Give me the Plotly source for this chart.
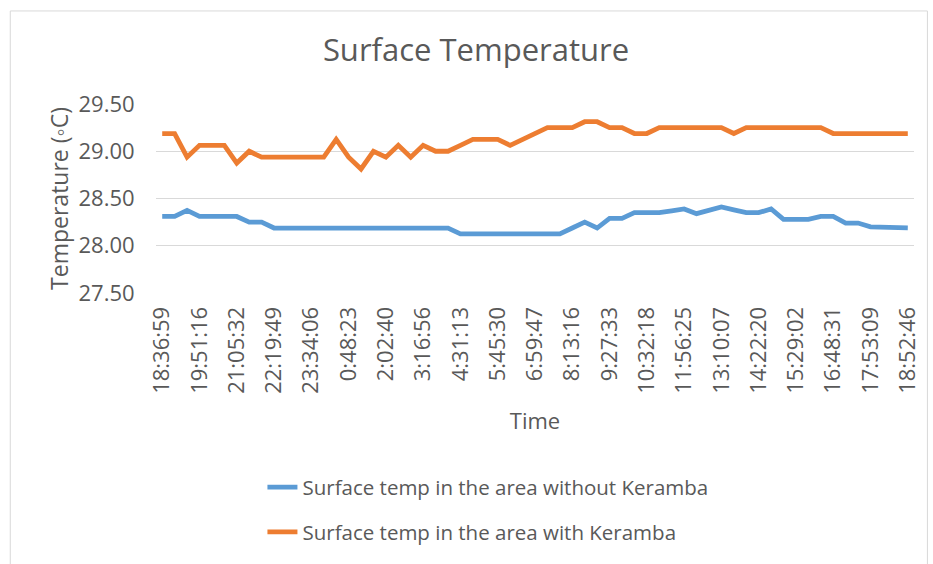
import plotly.graph_objects as go

# Sample times shown on the category axis (every third reading is labelled)
tick_labels = [
    "18:36:59", "19:51:16", "21:05:32", "22:19:49", "23:34:06", "0:48:23",
    "2:02:40", "3:16:56", "4:31:13", "5:45:30", "6:59:47", "8:13:16",
    "9:27:33", "10:32:18", "11:56:25", "13:10:07", "14:22:20", "15:29:02",
    "16:48:31", "17:53:09", "18:52:46",
]

# Surface temperature readings (°C)
without_keramba = [
    28.31, 28.31, 28.375, 28.31, 28.31, 28.31, 28.31, 28.25, 28.25, 28.1875,
    28.1875, 28.1875, 28.1875, 28.1875, 28.1875, 28.1875, 28.1875, 28.1875, 28.1875, 28.1875,
    28.1875, 28.1875, 28.1875, 28.1875, 28.125, 28.125, 28.125, 28.125, 28.125, 28.125,
    28.125, 28.125, 28.125, 28.1875, 28.25, 28.1875, 28.29, 28.29, 28.35, 28.35,
    28.35, 28.37, 28.39, 28.34, 28.37, 28.41, 28.38, 28.35, 28.35, 28.39,
    28.28, 28.28, 28.28, 28.31, 28.31, 28.24, 28.24, 28.2, 28.2, 28.19,
    28.19,
]
with_keramba = [
    29.1875, 29.1875, 28.9375, 29.0625, 29.0625, 29.0625, 28.875, 29.0, 28.9375, 28.9375,
    28.9375, 28.9375, 28.9375, 28.9375, 29.125, 28.9375, 28.8125, 29.0, 28.9375, 29.0625,
    28.9375, 29.0625, 29.0, 29.0, 29.0625, 29.125, 29.125, 29.125, 29.0625, 29.125,
    29.1875, 29.25, 29.25, 29.25, 29.3125, 29.3125, 29.25, 29.25, 29.1875, 29.1875,
    29.25, 29.25, 29.25, 29.25, 29.25, 29.25, 29.1875, 29.25, 29.25, 29.25,
    29.25, 29.25, 29.25, 29.25, 29.1875, 29.1875, 29.1875, 29.1875, 29.1875, 29.1875,
    29.1875,
]

series_names = [
    "Surface temp in the area without Keramba",
    "Surface temp in the area with Keramba",
]
series_colors = ["#5B9BD5", "#ED7D31"]

idx = list(range(len(without_keramba)))
tick_step = 3

FONT = "Open Sans"
TEXT = "#595959"
GRID = "#D9D9D9"

fig = go.Figure()
for name, vals, col in zip(series_names, [without_keramba, with_keramba], series_colors):
    fig.add_trace(go.Scatter(
        x=idx, y=vals, mode="lines", name=name, legendgroup=name,
        line=dict(color=col, width=4.8, shape="linear"),
    ))

W, H = 933, 564
L, R, T, B = 156, 15, 104, 266
pw, ph = W - L - R, H - T - B


def px_x(p):
    return (p - L) / pw


def px_y(p):
    return (H - B - p) / ph


# Chart-area frame: left, top and right edges (the bottom lies off the page)
frame_left, frame_right, frame_top, frame_bottom = 9.5, 931.5, 8.5, 620
frame = [
    (frame_left, frame_bottom, frame_left, frame_top),
    (frame_left, frame_top, frame_right, frame_top),
    (frame_right, frame_top, frame_right, frame_bottom),
]
frame_shapes = [
    dict(type="line", xref="paper", yref="paper",
         x0=px_x(a), y0=px_y(b), x1=px_x(c), y1=px_y(d),
         line=dict(color=GRID, width=1), layer="below")
    for a, b, c, d in frame
]

fig.update_layout(
    width=W, height=H,
    margin=dict(l=L, r=R, t=T, b=B, pad=0),
    paper_bgcolor="white", plot_bgcolor="white",
    font=dict(family=FONT, color=TEXT, size=20),
    title=dict(text="Surface Temperature", x=476 / W, xref="container", xanchor="center",
               y=1 - 50 / H, yref="container", yanchor="middle",
               font=dict(size=31, color=TEXT, family=FONT)),
    showlegend=True,
    legend=dict(
        orientation="v", x=px_x(263), xanchor="left", y=px_y(477), yanchor="top",
        font=dict(size=20.5, color=TEXT, family=FONT), traceorder="grouped",
        tracegroupgap=15, bgcolor="rgba(0,0,0,0)",
    ),
    xaxis=dict(
        range=[-0.5, len(idx) - 0.5],
        tickmode="array", tickvals=idx[::tick_step], ticktext=tick_labels,
        tickangle=-90, showgrid=False, zeroline=False, showline=False,
        ticks="outside", ticklen=4, tickcolor="rgba(0,0,0,0)",
        tickfont=dict(size=22, color=TEXT),
        title=dict(text="Time", standoff=20, font=dict(size=22, color=TEXT)),
    ),
    yaxis=dict(
        range=[27.5, 29.5], dtick=0.5, tickformat=".2f",
        showgrid=True, gridcolor=GRID, gridwidth=1.3, zeroline=False, showline=False,
        ticks="outside", ticklen=16, tickcolor="rgba(0,0,0,0)",
        tickfont=dict(size=22, color=TEXT),
        title=dict(text="Temperature (◦C)", standoff=3, font=dict(size=23, color=TEXT)),
    ),
    shapes=frame_shapes,
)

fig.write_html("out.html")
